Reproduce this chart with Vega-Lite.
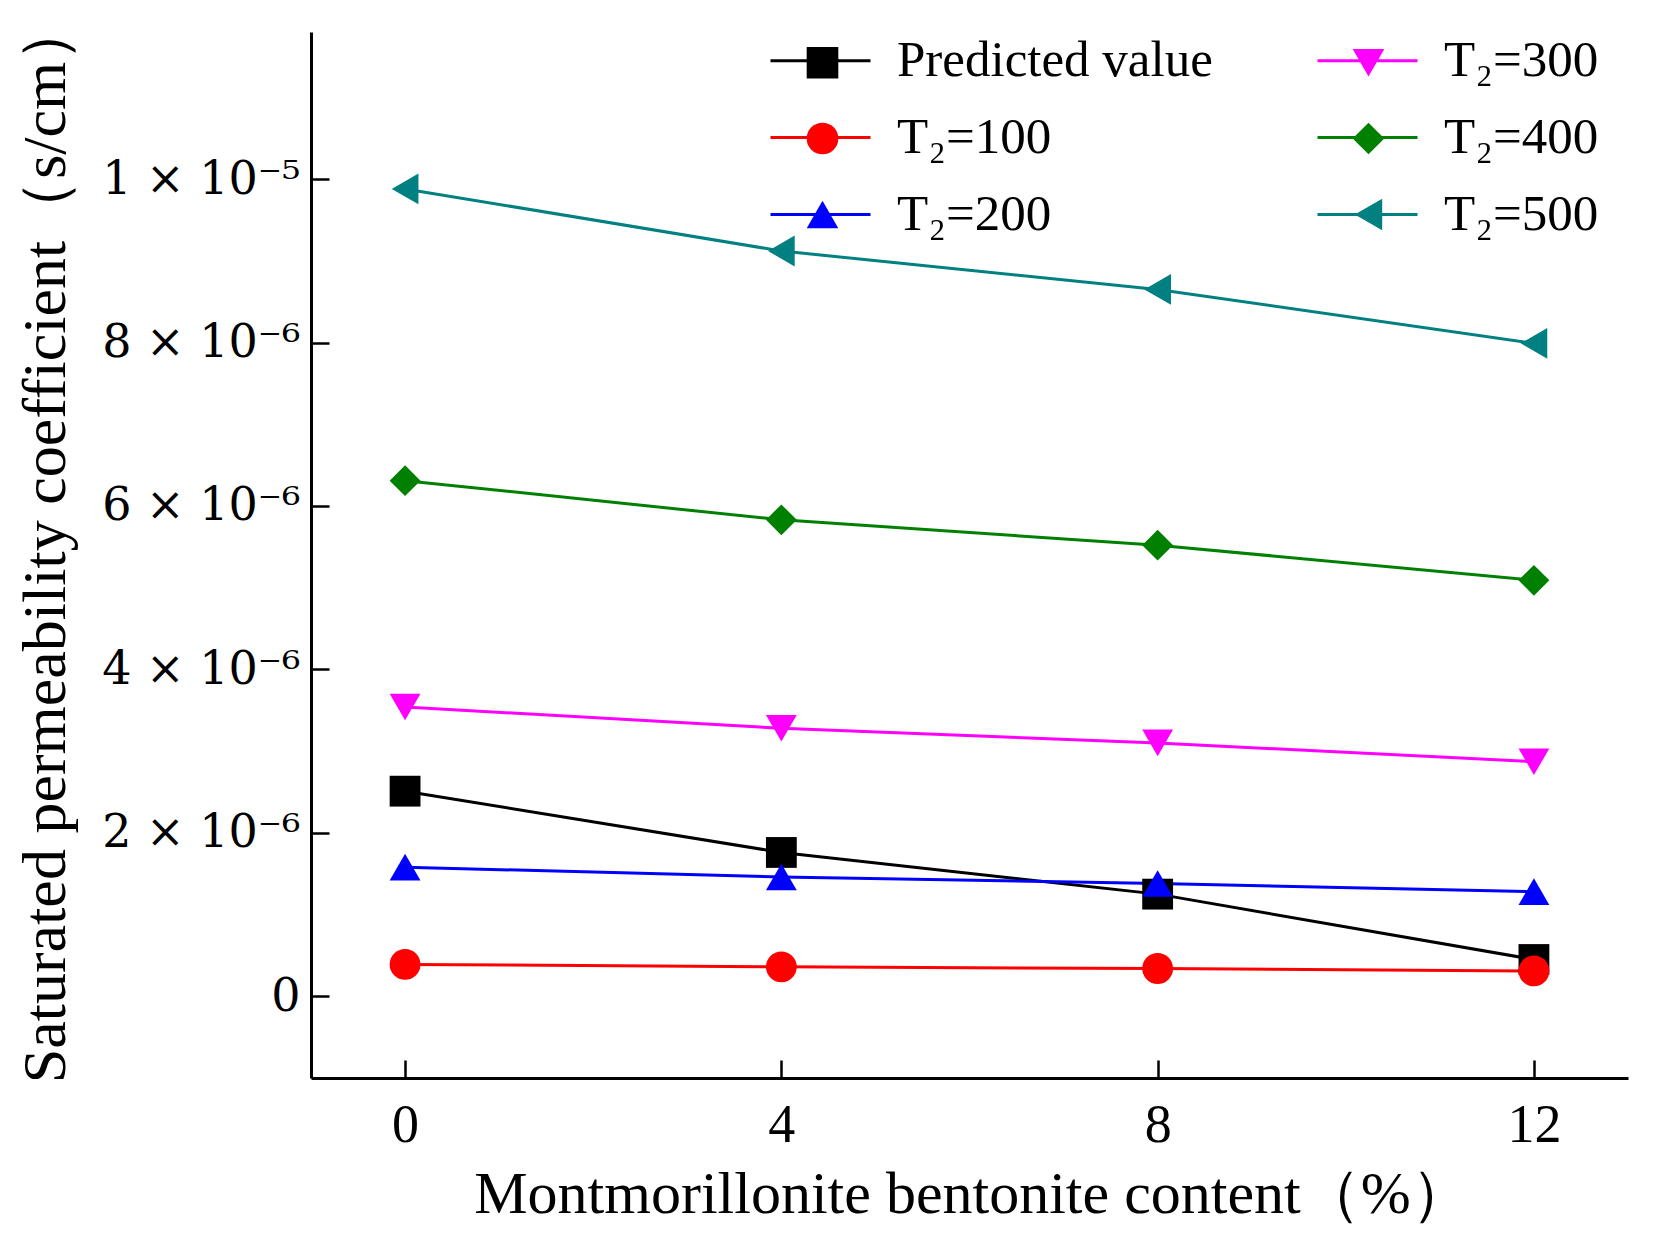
{
  "$schema": "https://vega.github.io/schema/vega-lite/v6.json",
  "width": 1317,
  "height": 1046,
  "autosize": "none",
  "padding": {"left": 311, "top": 32, "right": 28, "bottom": 172},
  "background": "white",
  "config": {
    "view": {"stroke": null},
    "font": "Liberation Serif",
    "axis": {
      "grid": false,
      "domainColor": "black",
      "domainWidth": 3,
      "tickColor": "black",
      "tickWidth": 2.5,
      "tickSize": -18,
      "labelColor": "black",
      "labelFont": "Liberation Serif",
      "titleFont": "Liberation Serif",
      "titleColor": "black",
      "titleFontWeight": "normal"
    },
    "legend": {
      "labelFont": "Liberation Serif",
      "labelFontSize": 51,
      "labelColor": "black",
      "labelLimit": 400,
      "labelOffset": 16
    }
  },
  "data": {
    "values": [
      {"content": 0, "k": 2.51e-6, "series": "Predicted value"},
      {"content": 4, "k": 1.76e-6, "series": "Predicted value"},
      {"content": 8, "k": 1.25e-6, "series": "Predicted value"},
      {"content": 12, "k": 0.45e-6, "series": "Predicted value"},
      {"content": 0, "k": 0.39e-6, "series": "T₂=100"},
      {"content": 4, "k": 0.36e-6, "series": "T₂=100"},
      {"content": 8, "k": 0.34e-6, "series": "T₂=100"},
      {"content": 12, "k": 0.31e-6, "series": "T₂=100"},
      {"content": 0, "k": 1.58e-6, "series": "T₂=200"},
      {"content": 4, "k": 1.46e-6, "series": "T₂=200"},
      {"content": 8, "k": 1.38e-6, "series": "T₂=200"},
      {"content": 12, "k": 1.28e-6, "series": "T₂=200"},
      {"content": 0, "k": 3.54e-6, "series": "T₂=300"},
      {"content": 4, "k": 3.28e-6, "series": "T₂=300"},
      {"content": 8, "k": 3.10e-6, "series": "T₂=300"},
      {"content": 12, "k": 2.87e-6, "series": "T₂=300"},
      {"content": 0, "k": 6.31e-6, "series": "T₂=400"},
      {"content": 4, "k": 5.83e-6, "series": "T₂=400"},
      {"content": 8, "k": 5.52e-6, "series": "T₂=400"},
      {"content": 12, "k": 5.09e-6, "series": "T₂=400"},
      {"content": 0, "k": 9.88e-6, "series": "T₂=500"},
      {"content": 4, "k": 9.12e-6, "series": "T₂=500"},
      {"content": 8, "k": 8.65e-6, "series": "T₂=500"},
      {"content": 12, "k": 7.99e-6, "series": "T₂=500"}
    ]
  },
  "encoding": {
    "x": {
      "field": "content",
      "type": "quantitative",
      "scale": {"domain": [-1, 13], "nice": false, "zero": false},
      "axis": {
        "values": [0, 4, 8, 12],
        "labelFontSize": 54,
        "labelPadding": 38,
        "title": "Montmorillonite bentonite content（%）",
        "titleFontSize": 60,
        "titleX": 661,
        "titleY": 134,
        "titleBaseline": "alphabetic",
        "titleAlign": "center"
      }
    },
    "y": {
      "field": "k",
      "type": "quantitative",
      "scale": {"domain": [-1e-6, 1.18e-5], "nice": false, "zero": false},
      "axis": {
        "values": [0, 2e-6, 4e-6, 6e-6, 8e-6, 1e-5],
        "labelExpr": "datum.value == 0 ? '0' : (datum.value > 9.9e-6 ? '1 × 10⁻⁵' : format(round(datum.value * 1e6), 'd') + ' × 10⁻⁶')",
        "labelFont": "DejaVu Serif",
        "labelFontSize": 46,
        "labelPadding": 29,
        "labelLimit": 320,
        "title": "Saturated permeability coefficient（s/cm）",
        "titleFontSize": 62,
        "titleAngle": -90,
        "titleX": -234,
        "titleY": 509,
        "titleAlign": "center",
        "titleBaseline": "bottom"
      }
    }
  },
  "layer": [
    {
      "mark": {"type": "line", "strokeWidth": 3},
      "encoding": {
        "stroke": {
          "field": "series",
          "type": "nominal",
          "scale": {
            "domain": ["Predicted value", "T₂=100", "T₂=200", "T₂=300", "T₂=400", "T₂=500"],
            "range": ["#000000", "#FF0000", "#0000FF", "#FF00FF", "#008000", "#008080"]
          },
          "legend": {
            "title": null,
            "orient": "none",
            "legendX": 458,
            "legendY": -23,
            "columns": 2,
            "columnPadding": 98,
            "rowPadding": 0,
            "labelOffset": 25,
            "symbolType": "stroke",
            "symbolSize": 10000,
            "symbolStrokeWidth": 3
          }
        }
      }
    },
    {
      "mark": {"type": "point", "filled": true, "opacity": 1, "size": 950},
      "encoding": {
        "fill": {
          "field": "series",
          "type": "nominal",
          "scale": {
            "domain": ["T₂=500", "T₂=400", "T₂=300", "T₂=200", "T₂=100", "Predicted value"],
            "range": ["#008080", "#008000", "#FF00FF", "#0000FF", "#FF0000", "#000000"]
          },
          "legend": {
            "title": null,
            "orient": "none",
            "legendX": 486,
            "legendY": 5,
            "columns": 2,
            "columnPadding": 479,
            "rowPadding": 24,
            "symbolSize": 1000,
            "symbolStrokeWidth": 0,
            "labelExpr": "''",
            "values": ["Predicted value", "T₂=100", "T₂=200", "T₂=300", "T₂=400", "T₂=500"]
          }
        },
        "shape": {
          "field": "series",
          "type": "nominal",
          "scale": {
            "domain": ["T₂=500", "T₂=400", "T₂=300", "T₂=200", "T₂=100", "Predicted value"],
            "range": ["triangle-left", "diamond", "triangle-down", "triangle-up", "circle", "square"]
          }
        }
      }
    }
  ]
}
